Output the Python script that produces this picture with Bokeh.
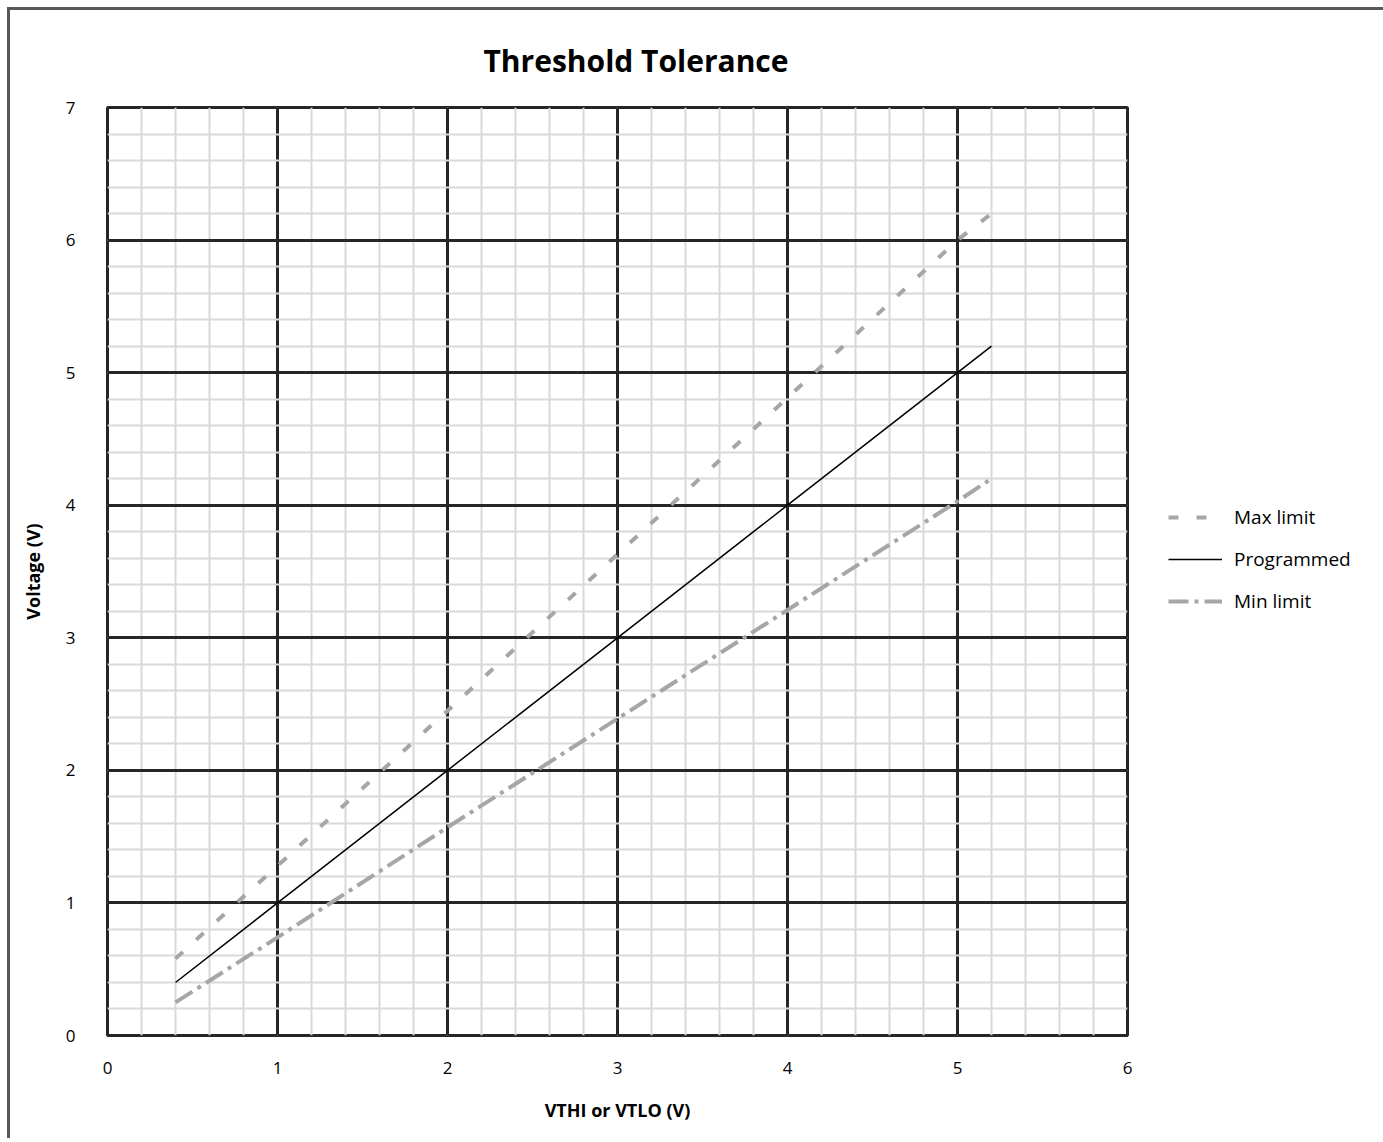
from bokeh.plotting import figure
from bokeh.models import (Range1d, FixedTicker, Legend, LegendItem, ColumnDataSource, Title)
from bokeh.embed import file_html
from bokeh.resources import INLINE

# ---- data ----
title_text = "Threshold Tolerance"
x_label = "VTHI or VTLO (V)"
y_label = "Voltage (V)"
x_ticks = [0, 1, 2, 3, 4, 5, 6]
y_ticks = [0, 1, 2, 3, 4, 5, 6, 7]
vth = [0.4, 1, 2, 3, 4, 5, 5.2]
max_limit = [0.58, 1.28, 2.45, 3.63, 4.81, 6.0, 6.2]
programmed = [0.4, 1, 2, 3, 4, 5, 5.2]
min_limit = [0.25, 0.74, 1.57, 2.39, 3.21, 4.03, 4.2]
series_names = ["Max limit", "Programmed", "Min limit"]

FONT = "Open Sans"
DARK = "#262626"
GRAY = "#a6a6a6"

p = figure(frame_width=1020, frame_height=928, output_backend="svg", toolbar_location=None,
           x_range=Range1d(0, 6), y_range=Range1d(0, 7),
           min_border_left=97, min_border_right=256, min_border_top=97, min_border_bottom=103)
p.styles = {"border-top": "3px solid #595959", "border-left": "3px solid #595959",
            "margin-left": "7px", "margin-top": "7px"}

p.xaxis.ticker = FixedTicker(ticks=x_ticks, minor_ticks=[i * 0.2 for i in range(31)])
p.yaxis.ticker = FixedTicker(ticks=y_ticks, minor_ticks=[i * 0.2 for i in range(36)])
for ax in (p.xaxis, p.yaxis):
    ax.axis_line_color = None
    ax.major_tick_line_color = None
    ax.minor_tick_line_color = None
    ax.major_label_text_font = FONT
    ax.major_label_text_font_size = "17px"
    ax.major_label_text_color = "#000000"
    ax.axis_label_text_font = FONT
    ax.axis_label_text_font_style = "bold"
    ax.axis_label_text_font_size = "18px"
    ax.axis_label_text_color = "#000000"
p.xaxis.axis_label = x_label
p.yaxis.axis_label = y_label
p.xaxis.major_label_standoff = 20
p.yaxis.major_label_standoff = 26
p.xaxis.axis_label_standoff = 21
p.yaxis.axis_label_standoff = 18

p.grid.grid_line_color = DARK
p.grid.grid_line_width = 3
p.grid.minor_grid_line_color = "#d9d9d9"
p.grid.minor_grid_line_width = 2
p.outline_line_color = DARK
p.outline_line_width = 3
p.outline_line_alpha = 1.0

src = ColumnDataSource(dict(x=vth, mx=max_limit, pr=programmed, mn=min_limit))
r_max = p.line("x", "mx", source=src, line_color=GRAY, line_width=4, line_dash="10 18")
r_pr = p.line("x", "pr", source=src, line_color="#000000", line_width=1.5)
r_min = p.line("x", "mn", source=src, line_color=GRAY, line_width=4, line_dash="20 6 4 6")

legend = Legend(items=[LegendItem(label=series_names[0], renderers=[r_max]),
                       LegendItem(label=series_names[1], renderers=[r_pr]),
                       LegendItem(label=series_names[2], renderers=[r_min])],
                location=(41, 421), ncols=1, border_line_color=None, background_fill_alpha=0,
                padding=0, margin=37, spacing=16, glyph_width=54, glyph_height=20,
                label_standoff=12, label_text_font=FONT, label_text_font_size="19px",
                label_text_color="#000000")
p.add_layout(legend, "right")

p.title = Title(text=title_text, align="left", offset=376, text_font=FONT,
                text_font_style="bold", text_font_size="30px", text_color="#000000",
                standoff=53)

open("out.html", "w").write(file_html(p, INLINE))
